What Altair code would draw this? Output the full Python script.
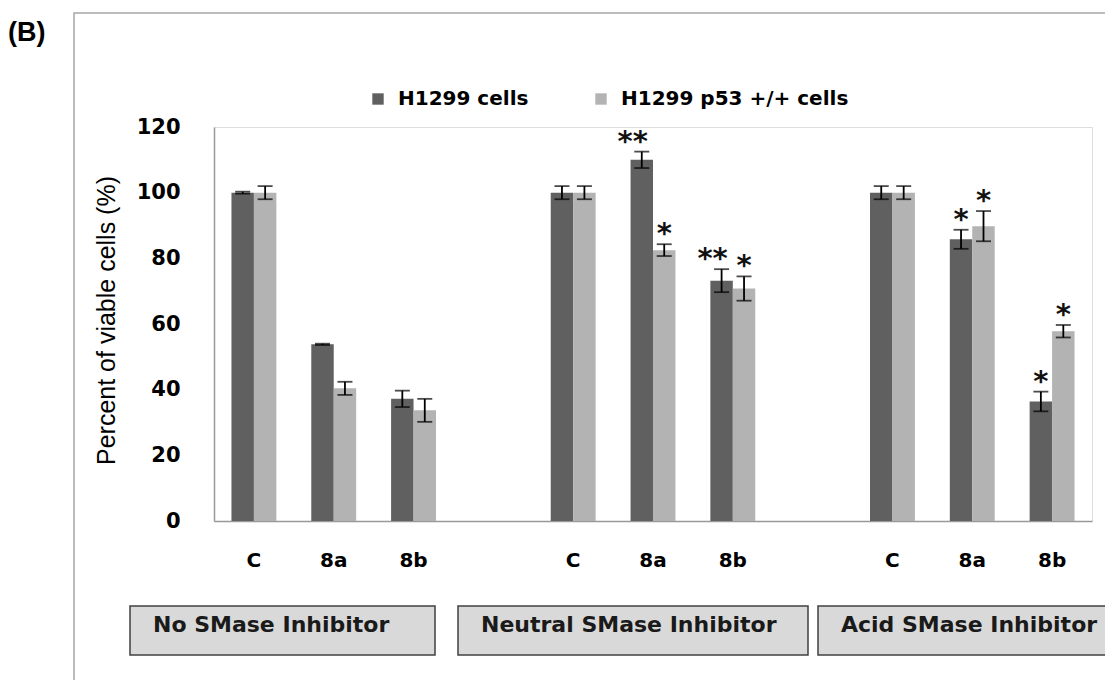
import altair as alt
import pandas as pd

groups = ["No SMase Inhibitor", "Neutral SMase Inhibitor", "Acid SMase Inhibitor"]
treatments = ["C", "8a", "8b"]
series = ["H1299 cells", "H1299 p53 +/+ cells"]

h1299_mean = [100, 53.8, 37.2, 100, 110.0, 73.2, 100, 85.8, 36.4]
h1299_err = [0.3, 0.2, 2.5, 2.0, 2.5, 3.5, 2.0, 2.9, 3.0]
p53_mean = [100, 40.4, 33.7, 100, 82.5, 70.8, 100, 89.8, 57.8]
p53_err = [2.0, 2.0, 3.5, 2.0, 1.8, 3.7, 2.0, 4.6, 1.9]
h1299_sig = ["", "", "", "", "**", "**", "", "*", "*"]
p53_sig = ["", "", "", "", "*", "*", "", "*", "*"]

y_ticks = [0, 20, 40, 60, 80, 100, 120]

# category slots (with blank spacer slots between groups)
slots = []
keys = []
for gi, g in enumerate(groups):
    if gi > 0:
        slots.append(f"gap{gi}")
    for t in treatments:
        slots.append(f"{g}|{t}")
        keys.append(f"{g}|{t}")

rows = []
for s, means, errs, sigs in [
    (series[0], h1299_mean, h1299_err, h1299_sig),
    (series[1], p53_mean, p53_err, p53_sig),
]:
    for k, m, e, sg in zip(keys, means, errs, sigs):
        rows.append({"slot": k, "series": s, "mean": m, "lo": m - e, "hi": m + e, "sig": sg})
df = pd.DataFrame(rows)

FONT_BOLD = "DejaVu Sans"

x_axis = alt.Axis(
    title=None,
    labelExpr="indexof(datum.value, '|') > 0 ? split(datum.value, '|')[1] : ''",
    labelFont=FONT_BOLD, labelFontWeight="bold", labelFontSize=20, labelColor="black",
    labelAngle=0, labelPadding=29, labelBaseline="top",
    ticks=False, tickSize=0, domainColor="#999999", domainWidth=1.5, grid=False,
)
x_enc = alt.X("slot:N", scale=alt.Scale(domain=slots, paddingInner=0.4375, paddingOuter=0.21875), axis=x_axis)
xo_enc = alt.XOffset("series:N", scale=alt.Scale(domain=series, paddingInner=0, paddingOuter=0))

y_axis = alt.Axis(
    title="Percent of viable cells (%)", values=y_ticks,
    labelFont=FONT_BOLD, labelFontWeight="bold", labelFontSize=21, labelColor="black",
    labelPadding=34, ticks=False, tickSize=0, domainColor="#999999", domainWidth=1.5, grid=False,
    titleFont="Liberation Sans Narrow, Liberation Sans", titleFontWeight="normal", titleFontSize=25,
    titleColor="black", titleX=-108, titleY=193, titleAngle=-90, titleAlign="center", titleBaseline="middle",
)
y_scale = alt.Scale(domain=[0, 120], nice=False)

base = alt.Chart(df)

bars = base.mark_bar().encode(
    x=x_enc, xOffset=xo_enc,
    y=alt.Y("mean:Q", scale=y_scale, axis=y_axis),
    color=alt.Color("series:N", scale=alt.Scale(domain=series, range=["#606060", "#b3b3b3"]),
                    legend=alt.Legend(orient="none", legendX=154, legendY=-38, direction="horizontal",
                                      title=None, symbolType="square", symbolSize=130, symbolStrokeWidth=0,
                                      labelFont=FONT_BOLD, labelFontWeight="bold", labelFontSize=20,
                                      labelColor="black", labelOffset=10, columnPadding=62, padding=0,
                                      labelLimit=500)),
)

rules = base.mark_rule(color="black", strokeWidth=1.8).encode(
    x=x_enc, xOffset=xo_enc, y=alt.Y("lo:Q", scale=y_scale, axis=y_axis), y2="hi:Q"
)
cap_hi = base.mark_tick(color="black", size=15, thickness=1.8).encode(
    x=x_enc, xOffset=xo_enc, y=alt.Y("hi:Q", scale=y_scale, axis=y_axis)
)
cap_lo = base.mark_tick(color="black", size=15, thickness=1.8).encode(
    x=x_enc, xOffset=xo_enc, y=alt.Y("lo:Q", scale=y_scale, axis=y_axis)
)

stars_single = base.transform_filter("datum.sig == '*'").mark_text(
    font=FONT_BOLD, fontSize=29, fontWeight="bold", color="#111111", baseline="middle", align="center", dy=-10
).encode(x=x_enc, xOffset=xo_enc, y=alt.Y("hi:Q", scale=y_scale, axis=y_axis), text="sig:N")
stars_double = base.transform_filter("datum.sig == '**'").mark_text(
    font=FONT_BOLD, fontSize=29, fontWeight="bold", color="#111111", baseline="middle", align="center", dy=-10, dx=-9
).encode(x=x_enc, xOffset=xo_enc, y=alt.Y("hi:Q", scale=y_scale, axis=y_axis), text="sig:N")

# decorative frame and panel label
one = pd.DataFrame({"k": [0]})
frame = alt.Chart(one).mark_rect(fillOpacity=0, stroke="#a6a6a6", strokeWidth=1.5).encode(
    x=alt.value(-140), x2=alt.value(1000), y=alt.value(-114), y2=alt.value(700)
)
panel = alt.Chart(one).mark_text(text="(B)", font="Liberation Sans", fontWeight="bold", fontSize=27,
                                 color="black", align="left", baseline="middle").encode(
    x=alt.value(-206), y=alt.value(-94)
)

box_specs = [(-84, 221, None), (244, 594, 324), (604, 920, None)]
box_layers = []
for g, (bx, bx2, lim) in zip(groups, box_specs):
    gdf = pd.DataFrame({"group": [g]})
    box_layers.append(alt.Chart(gdf).mark_rect(fill="#d9d9d9", stroke="#404040", strokeWidth=1.5).encode(
        x=alt.value(bx), x2=alt.value(bx2), y=alt.value(479), y2=alt.value(528)))
    tkw = dict(font="DejaVu Sans", fontSize=22, fontWeight="bold", color="#1a1a1a", align="left", baseline="middle")
    if lim:
        tkw.update(limit=lim, ellipsis="")
    box_layers.append(alt.Chart(gdf).mark_text(**tkw).encode(
        x=alt.value(bx + 23), y=alt.value(498), text="group:N"))

chart = alt.layer(
    frame, panel, bars, rules, cap_hi, cap_lo, stars_single, stars_double, *box_layers
).properties(
    width=878, height=394,
    padding={"left": 206, "top": 119, "right": 13, "bottom": 159},
    autosize=alt.AutoSizeParams(type="none"),
).configure_view(stroke=None).configure(background="white")

chart.save("out.html", embed_options={"renderer": "svg", "actions": False})
